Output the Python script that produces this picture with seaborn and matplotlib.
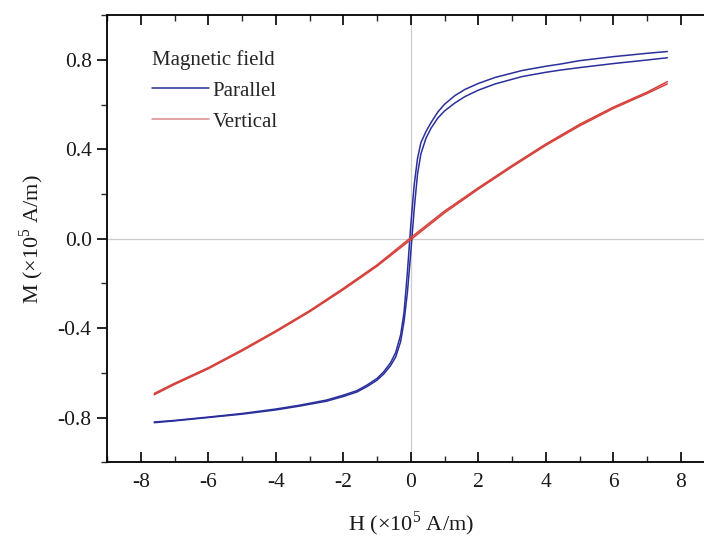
import numpy as np
import pandas as pd
import matplotlib
matplotlib.use("Agg")
import matplotlib.pyplot as plt
import seaborn as sns
from matplotlib.ticker import MultipleLocator

# Parallel field: descending branch (from +H to -H)
par_down_H = [7.6, 7, 6, 5, 4.44, 4, 3.3, 2.5, 2, 1.6, 1.3, 1.0, 0.8, 0.6, 0.45, 0.3, 0.2, 0.1,
              0.0, -0.1, -0.2, -0.3, -0.45, -0.6, -0.8, -1.0, -1.3, -1.6, -2, -2.5, -3.3, -4,
              -5, -6, -7, -7.6]
par_down_M = [0.838, 0.83, 0.815, 0.797, 0.782, 0.772, 0.753, 0.722, 0.695, 0.668, 0.64, 0.602,
              0.567, 0.52, 0.48, 0.43, 0.36, 0.24, 0.06, -0.15, -0.33, -0.43, -0.51, -0.555,
              -0.595, -0.625, -0.655, -0.68, -0.70, -0.722, -0.745, -0.762, -0.782, -0.798,
              -0.813, -0.82]

# Parallel field: ascending branch (from -H to +H)
par_up_H = [-7.6, -7, -6, -5, -4, -3.3, -2.5, -2, -1.6, -1.3, -1.0, -0.8, -0.6, -0.45, -0.3,
            -0.2, -0.1, 0.0, 0.1, 0.2, 0.3, 0.45, 0.6, 0.8, 1.0, 1.3, 1.6, 2, 2.5, 3.3, 4,
            4.44, 5, 6, 7, 7.6]
par_up_M = [-0.823, -0.815, -0.80, -0.785, -0.766, -0.749, -0.727, -0.706, -0.686, -0.662,
            -0.633, -0.605, -0.568, -0.53, -0.46, -0.37, -0.24, -0.06, 0.13, 0.29, 0.38, 0.45,
            0.495, 0.54, 0.572, 0.607, 0.636, 0.665, 0.693, 0.726, 0.745, 0.755, 0.766, 0.784,
            0.80, 0.81]

# Vertical field branches
ver_up_H = [-7.6, -7, -6, -5, -4, -3, -2, -1, 0, 1, 2, 3, 4, 5, 6, 7, 7.6]
ver_up_M = [-0.698, -0.652, -0.582, -0.502, -0.417, -0.327, -0.228, -0.123, -0.004,
            0.116, 0.222, 0.322, 0.418, 0.505, 0.583, 0.650, 0.693]
ver_down_H = [7.6, 7, 6, 5, 4, 3, 2, 1, 0, -1, -2, -3, -4, -5, -6, -7, -7.6]
ver_down_M = [0.703, 0.656, 0.589, 0.512, 0.424, 0.328, 0.228, 0.124, 0.005,
              -0.117, -0.222, -0.322, -0.412, -0.497, -0.577, -0.647, -0.692]

frames = []
for H, M, field, br in [(par_down_H, par_down_M, "Parallel", "pd"),
                        (par_up_H, par_up_M, "Parallel", "pu"),
                        (ver_up_H, ver_up_M, "Vertical", "vu"),
                        (ver_down_H, ver_down_M, "Vertical", "vd")]:
    frames.append(pd.DataFrame({"H": H, "M": M, "field": field, "branch": br}))
df = pd.concat(frames, ignore_index=True)

sns.set_style("ticks")
plt.rcParams["font.family"] = ["Liberation Serif", "DejaVu Serif"]
plt.rcParams["mathtext.fontset"] = "custom"
plt.rcParams["mathtext.rm"] = "Liberation Serif"

fig = plt.figure(figsize=(7.04, 5.47), dpi=100)
ax = fig.add_axes([0.152, 0.155, 0.863, 0.817])

ax.axhline(0, color="#cccccc", lw=0.9, zorder=0)
ax.axvline(0, color="#cccccc", lw=0.9, zorder=0)

palette = {"Parallel": "#2a2f9c", "Vertical": "#d5403a"}
sns.lineplot(data=df, x="H", y="M", hue="field", units="branch", estimator=None,
             sort=False, palette=palette, lw=1.1, ax=ax)

ax.set_xlim(-9, 9)
ax.set_ylim(-1, 1)
ax.xaxis.set_major_locator(MultipleLocator(2))
ax.xaxis.set_minor_locator(MultipleLocator(1))
ax.yaxis.set_minor_locator(MultipleLocator(0.2))
ax.set_yticks([-0.8, -0.4, 0.0, 0.4, 0.8])
ax.set_yticklabels(["-0.8", "-0.4", "0.0", "0.4", "0.8"])
ax.set_xticks([-8, -6, -4, -2, 0, 2, 4, 6, 8])
ax.set_xticklabels(["-8", "-6", "-4", "-2", "0", "2", "4", "6", "8"])

ax.tick_params(axis="x", which="major", direction="in", length=7, width=1.2, pad=8,
               top=True, labelsize=15.5)
ax.tick_params(axis="x", which="minor", direction="in", length=4, width=1.0, top=True)
ax.tick_params(axis="y", which="major", direction="out", length=7, width=1.2, pad=4,
               labelsize=15.5)
ax.tick_params(axis="y", which="minor", direction="out", length=4, width=1.0)
ax.tick_params(colors="black", labelcolor="#1a1a1a")
for s in ax.spines.values():
    s.set_linewidth(1.3)
    s.set_color("black")

ax.set_xlabel("H (×10$^5$ A/m)", fontsize=16, labelpad=12, color="#1a1a1a")
ax.set_ylabel("M (×10$^5$ A/m)", fontsize=16, labelpad=8, color="#1a1a1a")

leg = ax.legend(title="Magnetic field", loc="upper left", bbox_to_anchor=(0.043, 0.965),
                frameon=False, fontsize=15, title_fontsize=15, handlelength=2.75,
                handletextpad=0.15, labelspacing=0.55)
leg._legend_box.align = "left"
leg.get_lines()[1].set_color("#d88a8a")

fig.savefig("out.png", dpi=100)
